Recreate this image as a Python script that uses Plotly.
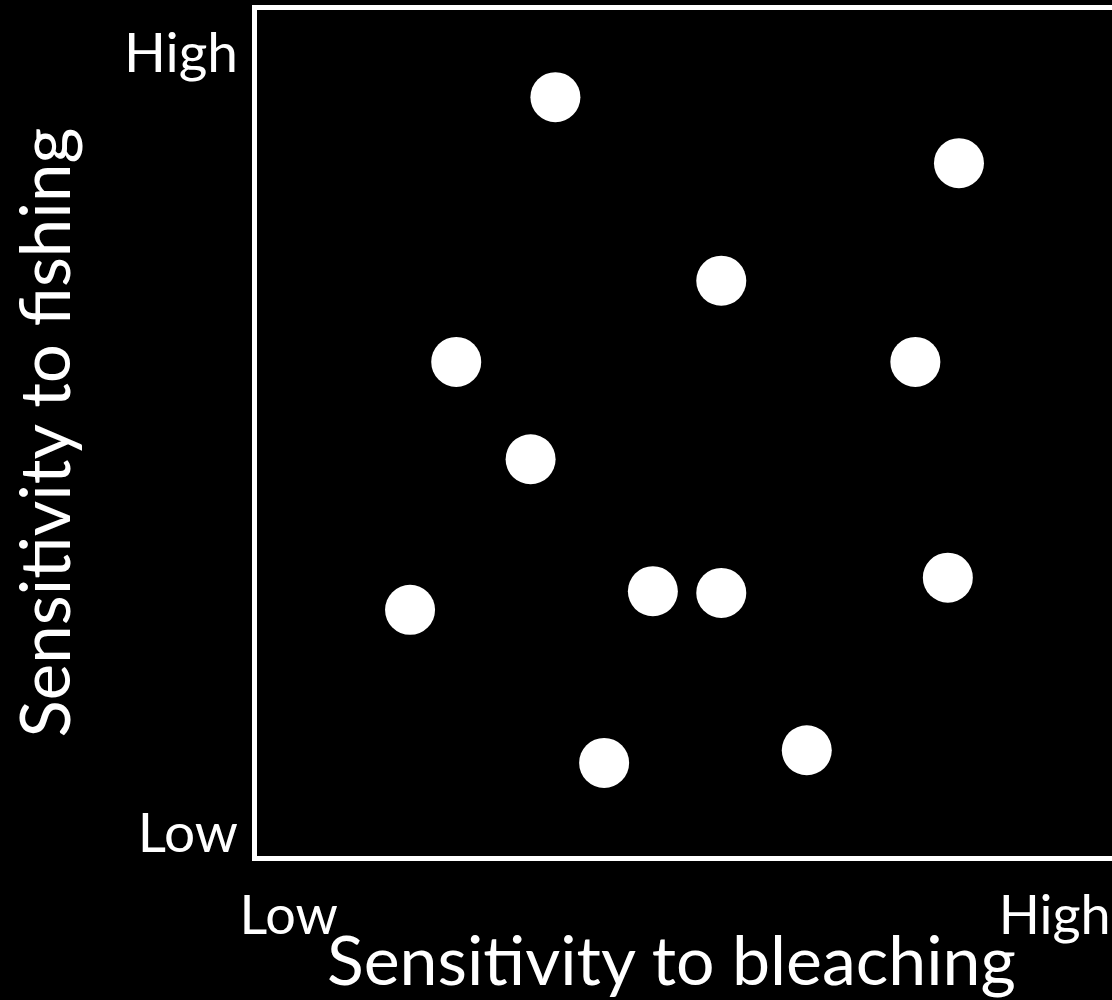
import plotly.graph_objects as go

# Data (arbitrary 0-10 units)
bleaching = [3.49, 8.21, 5.43, 2.33, 7.70, 3.20, 1.79, 4.63, 5.43, 8.08, 4.06, 6.43]
fishing = [8.97, 8.19, 6.80, 5.84, 5.84, 4.69, 2.91, 3.13, 3.11, 3.29, 1.10, 1.25]

x_tick_vals = [0.37, 9.33]
x_tick_text = ["Low", "High"]
y_tick_vals = [0.28, 9.5]
y_tick_text = ["Low", "High"]

x_title = "Sensitivity to bleaching"
y_title = "Sensitivity to fishing"

FONT = "Lato"

fig = go.Figure(
    go.Scatter(
        x=bleaching, y=fishing, mode="markers",
        marker=dict(size=50, color="white", line=dict(width=0)),
        showlegend=False, hoverinfo="skip",
    )
)

fig.update_layout(
    width=1112, height=1000,
    margin=dict(l=257, r=0, t=10, b=144),
    paper_bgcolor="black", plot_bgcolor="black",
    font=dict(family=FONT, color="white"),
    xaxis=dict(
        range=[0, 10], showgrid=False, zeroline=False,
        showline=True, linecolor="white", linewidth=5, mirror=True,
        tickvals=x_tick_vals, ticktext=x_tick_text, ticks="",
        tickfont=dict(size=54, family=FONT, color="white"),
        ticklabelstandoff=8,
        automargin=False,
    ),
    yaxis=dict(
        range=[0, 10], showgrid=False, zeroline=False,
        showline=True, linecolor="white", linewidth=5, mirror=True,
        tickvals=y_tick_vals, ticktext=y_tick_text, ticks="",
        tickfont=dict(size=55, family=FONT, color="white"),
        ticklabelstandoff=3,
        automargin=False,
    ),
    annotations=[
        dict(text=x_title, xref="paper", yref="paper", x=0.485, y=-0.121,
             xanchor="center", yanchor="middle", showarrow=False,
             font=dict(size=68, family=FONT, color="white")),
        dict(text=y_title, xref="paper", yref="paper", x=-0.25, y=0.501,
             xanchor="center", yanchor="middle", showarrow=False, textangle=-90,
             font=dict(size=69, family=FONT, color="white")),
    ],
)

fig.write_html(
    "out.html",
    config={"displayModeBar": False},
    post_script="document.body.style.margin='0';document.body.style.background='black';",
)
